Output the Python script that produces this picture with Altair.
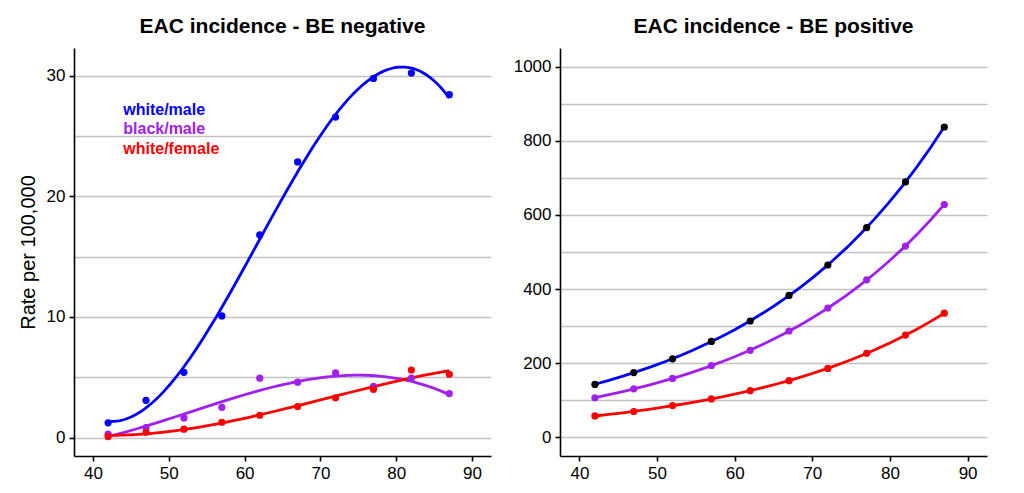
import altair as alt
import pandas as pd

FONT = "Liberation Sans"

# ---- data ----
ages = [42, 47, 52, 57, 62, 67, 72, 77, 82, 87]
series_names = ["white/male", "black/male", "white/female"]
line_colors = ["#0000FF", "#A020F0", "#FF0000"]
neg_point_colors = ["#0000FF", "#A020F0", "#FF0000"]
pos_point_colors = ["#000000", "#A020F0", "#FF0000"]

neg_white_male = [1.22, 3.09, 5.41, 10.08, 16.8, 22.85, 26.57, 29.78, 30.22, 28.43]
neg_black_male = [0.28, 0.83, 1.63, 2.51, 4.92, 4.59, 5.36, 4.25, 4.92, 3.65]
neg_white_female = [0.08, 0.44, 0.69, 1.27, 1.85, 2.57, 3.29, 4.0, 5.6, 5.25]

pos_white_male = [143, 175, 212, 259, 314, 383, 465, 566, 689, 837]
pos_black_male = [107, 131, 159, 194, 235, 287, 349, 425, 516, 628]
pos_white_female = [58, 70, 86, 104, 126, 153, 186, 227, 276, 335]

x_ticks = [40, 50, 60, 70, 80, 90]
neg_grid_values = [0, 5, 10, 15, 20, 25, 30]
pos_grid_values = [0, 100, 200, 300, 400, 500, 600, 700, 800, 900, 1000]

label_x = [44, 44, 44]
label_y = [27.2, 25.6, 23.9]

titles = ["EAC incidence - BE negative", "EAC incidence - BE positive"]


def make_df(vals, pcolors):
    rows = []
    for name, v, lc, pc in zip(series_names, vals, line_colors, pcolors):
        for a, r in zip(ages, v):
            rows.append({"age": a, "rate": r, "series": name,
                         "line_color": lc, "point_color": pc})
    return pd.DataFrame(rows)


neg_df = make_df([neg_white_male, neg_black_male, neg_white_female], neg_point_colors)
pos_df = make_df([pos_white_male, pos_black_male, pos_white_female], pos_point_colors)
lab_df = pd.DataFrame({"label": series_names, "lx": label_x, "ly": label_y,
                       "color": line_colors})

x_scale = alt.Scale(domain=[37.5, 92.5], nice=False, zero=False)
x_axis = alt.Axis(values=x_ticks, title=None, grid=False, format="d")


def y_axis(values, major, title):
    kw = dict(values=values, grid=True, format="d",
              labelExpr=f"datum.value % {major} === 0 ? datum.label : ''",
              tickOpacity={"condition": {"test": f"datum.value % {major} === 0", "value": 1}, "value": 0})
    kw["title"] = title if title else None
    return alt.Axis(**kw)


def panel(df, y_domain, grid_values, major, ytitle, title, fit_method, width):
    y_scale = alt.Scale(domain=y_domain, nice=False, zero=False)
    base = alt.Chart(df)
    if fit_method == "poly":
        fit = base.transform_regression("age", "rate", groupby=["series", "line_color"],
                                        method="poly", order=3)
    else:
        fit = base.transform_regression("age", "rate", groupby=["series", "line_color"],
                                        method="exp")
    curves = fit.mark_line(strokeWidth=2.8).encode(
        x=alt.X("age:Q", scale=x_scale, axis=x_axis),
        y=alt.Y("rate:Q", scale=y_scale, axis=y_axis(grid_values, major, ytitle)),
        color=alt.Color("line_color:N", scale=None),
        detail="series:N",
    )
    points = base.mark_circle(size=52, opacity=1).encode(
        x=alt.X("age:Q", scale=x_scale),
        y=alt.Y("rate:Q", scale=y_scale),
        color=alt.Color("point_color:N", scale=None),
    )
    return alt.layer(curves, points).properties(
        width=width, height=408,
        title=alt.TitleParams(title, fontSize=21, fontWeight="bold", font=FONT,
                              anchor="middle", offset=11, color="black"),
    )


left = panel(neg_df, [-1.53, 32.3], neg_grid_values, 10, "Rate per 100,000",
             titles[0], "poly", 417)
labels = alt.Chart(lab_df).mark_text(align="left", baseline="middle", fontWeight="bold",
                                      fontSize=16, font=FONT).encode(
    x=alt.X("lx:Q", scale=x_scale),
    y=alt.Y("ly:Q", scale=alt.Scale(domain=[-1.53, 32.3], nice=False, zero=False)),
    text="label:N",
    color=alt.Color("color:N", scale=None),
)
left = alt.layer(left, labels)

right = panel(pos_df, [-50, 1050], pos_grid_values, 200, None, titles[1], "exp", 427)

chart = alt.hconcat(left, right, spacing=22).properties(
    padding={"left": 10, "top": 8, "right": 5, "bottom": 5}
).configure_view(stroke=None).configure_axis(
    domainColor="black", domainWidth=1.6, tickColor="black", tickWidth=1.6, tickSize=5,
    gridColor="#C2C2C2", gridWidth=1.3,
    labelFont=FONT, labelFontSize=17, labelColor="black", labelPadding=4,
    titleFont=FONT, titleFontSize=20, titleFontWeight="normal", titleColor="black",
    titlePadding=8,
)

chart.save("out.html", embed_options={"renderer": "svg", "actions": False})
